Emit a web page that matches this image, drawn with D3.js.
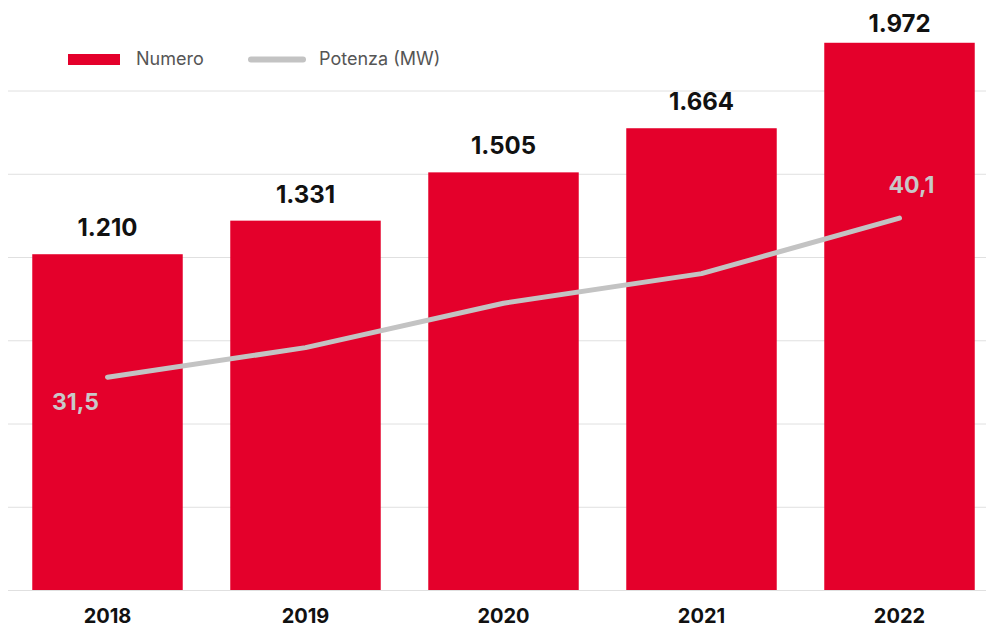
<!DOCTYPE html>
<html><head><meta charset="utf-8">
<script src="https://cdn.jsdelivr.net/npm/d3@7/dist/d3.min.js"></script>
<style>body{margin:0;background:#fff}svg{display:block;font-family:Inter, "Open Sans", sans-serif}</style>
</head><body><svg id="c" width="986" height="628"></svg>
<script>
const years = ["2018","2019","2020","2021","2022"];
const numero = [1210,1331,1505,1664,1972];
const potenza = [31.5,33.1,35.5,37.1,40.1];
const numeroLabels = ["1.210","1.331","1.505","1.664","1.972"];
const potenzaLabels = ["31,5","","","","40,1"];
const gridTicks = [0,300,600,900,1200,1500,1800];

const svg = d3.select("#c");
const x = d3.scaleBand().domain(years).range([8.5,998.5]).paddingInner(0.24).paddingOuter(0.12);
const y = d3.scaleLinear().domain([0,2000]).range([590,35]);
const y2 = d3.scaleLinear().domain([20,50]).range([590,35]);

svg.append("g").selectAll("line").data(gridTicks).join("line")
  .attr("x1",8).attr("x2",986).attr("y1",d=>y(d)+0.5).attr("y2",d=>y(d)+0.5)
  .attr("stroke","#e0e0e0").attr("stroke-width",1);

svg.append("g").selectAll("rect").data(years).join("rect")
  .attr("x",d=>x(d)).attr("width",x.bandwidth())
  .attr("y",(d,i)=>y(numero[i])).attr("height",(d,i)=>y(0)-y(numero[i]))
  .attr("fill","#e4002b");

svg.append("g").selectAll("text").data(years).join("text")
  .attr("x",d=>x(d)+x.bandwidth()/2).attr("y",(d,i)=>Math.max(y(numero[i])-18,32))
  .attr("text-anchor","middle").attr("font-size",24).attr("font-weight",700).attr("fill","#111")
  .text((d,i)=>numeroLabels[i]);

const line = d3.line().x((d,i)=>x(years[i])+x.bandwidth()/2).y(d=>y2(d));
svg.append("path").datum(potenza).attr("d",line).attr("fill","none")
  .attr("stroke","#c3c3c3").attr("stroke-width",5).attr("stroke-linecap","round").attr("stroke-linejoin","round");

svg.append("g").selectAll("text").data(years).join("text")
  .attr("x",(d,i)=>x(d)+x.bandwidth()/2+(i===0?-32:12))
  .attr("y",(d,i)=>y2(potenza[i])+(i===0?33:-25))
  .attr("text-anchor","middle").attr("font-size",23).attr("font-weight",700).attr("fill","#c8c8c8")
  .text((d,i)=>potenzaLabels[i]);

svg.append("g").selectAll("text").data(years).join("text")
  .attr("x",d=>x(d)+x.bandwidth()/2).attr("y",623)
  .attr("text-anchor","middle").attr("font-size",20).attr("font-weight",700).attr("fill","#111")
  .text(d=>d);

const lg = svg.append("g");
lg.append("rect").attr("x",68).attr("y",54).attr("width",52).attr("height",11).attr("fill","#e4002b");
lg.append("text").attr("x",136).attr("y",65).attr("font-size",18).attr("fill","#555").text("Numero");
lg.append("line").attr("x1",251).attr("x2",303).attr("y1",59.5).attr("y2",59.5)
  .attr("stroke","#c3c3c3").attr("stroke-width",6).attr("stroke-linecap","round");
lg.append("text").attr("x",319).attr("y",65).attr("font-size",18).attr("fill","#555").text("Potenza (MW)");
</script></body></html>
